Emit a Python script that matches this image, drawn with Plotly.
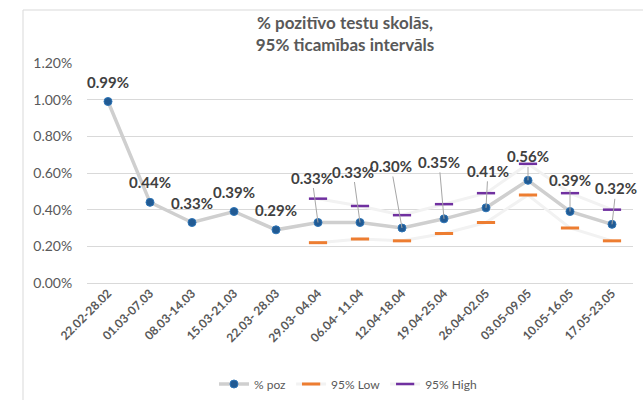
import plotly.graph_objects as go

categories = ["22.02-28.02", "01.03-07.03", "08.03-14.03", "15.03-21.03", "22.03- 28.03",
              "29.03- 04.04", "06.04- 11.04", "12.04-18.04", "19.04-25.04", "26.04-02.05",
              "03.05-09.05", "10.05-16.05", "17.05-23.05"]
poz = [0.99, 0.44, 0.33, 0.39, 0.29, 0.33, 0.33, 0.30, 0.35, 0.41, 0.56, 0.39, 0.32]
low95 = [None, None, None, None, None, 0.22, 0.24, 0.23, 0.27, 0.33, 0.48, 0.30, 0.23]
high95 = [None, None, None, None, None, 0.46, 0.42, 0.37, 0.43, 0.49, 0.65, 0.49, 0.40]
y_ticks = [0.0, 0.2, 0.4, 0.6, 0.8, 1.0, 1.2]

# label offsets (pixels) from point to label centre
label_dx = [0, 0, 0, 0, 0, -6, -7, -11, -5, 2, 0, 0, 4]
label_dy = [-20, -20, -20, -20, -20, -45, -51, -62, -57, -37, -24, -32, -36]
show_leader = [False] * 5 + [True] * 8

FONT = "Lato"
GRAY = "#595959"

fig = go.Figure()
fig.add_trace(go.Scatter(
    x=categories, y=poz, name="% poz", mode="lines+markers",
    line=dict(color="#cfcfcf", width=3.5),
    marker=dict(color="#215a93", size=8, line=dict(color="#2e75b6", width=1)),
))
fig.add_trace(go.Scatter(
    x=categories, y=low95, name="95% Low", mode="lines+markers",
    line=dict(color="#f2f2f2", width=3),
    marker=dict(symbol="line-ew", size=13, color="#ed7d31", line=dict(color="#ed7d31", width=3)),
))
fig.add_trace(go.Scatter(
    x=categories, y=high95, name="95% High", mode="lines+markers",
    line=dict(color="#f2f2f2", width=3),
    marker=dict(symbol="line-ew", size=13, color="#7030a0", line=dict(color="#7030a0", width=2.5)),
))

for c, v, dx, dy, lead in zip(categories, poz, label_dx, label_dy, show_leader):
    fig.add_annotation(
        x=c, y=v, text=f"{v:.2f}%", showarrow=True, ax=dx, ay=dy,
        arrowhead=0, arrowwidth=1,
        arrowcolor="#a6a6a6" if lead else "rgba(0,0,0,0)",
        font=dict(family=FONT, size=15, color="#404040", weight="bold"),
    )

# outer chart frame (partially visible)
x0 = (23 - 87) / 546
y0 = (283 - 10) / 220
fig.add_shape(type="line", xref="paper", yref="paper", x0=x0, x1=x0, y0=y0, y1=-0.6,
              line=dict(color="#d9d9d9", width=1))
fig.add_shape(type="line", xref="paper", yref="paper", x0=x0, x1=1.05, y0=y0, y1=y0,
              line=dict(color="#d9d9d9", width=1))

fig.update_layout(
    width=643, height=400,
    margin=dict(l=87, r=10, t=63, b=117, autoexpand=False),
    paper_bgcolor="white", plot_bgcolor="white",
    title=dict(text="% pozitīvo testu skolās,<br>95% ticamības intervāls",
               x=345 / 643, xanchor="center", yref="container", y=1 - 29 / 400, yanchor="middle",
               font=dict(family=FONT, size=17, color=GRAY, weight="bold")),
    showlegend=True,
    legend=dict(orientation="h", x=0.478, xanchor="center", yref="container",
                y=1 - 384 / 400, yanchor="middle",
                font=dict(family=FONT, size=12, color=GRAY), itemclick=False),
    xaxis=dict(type="category", categoryorder="array", categoryarray=categories,
               tickangle=-45, tickfont=dict(family=FONT, size=12, color=GRAY, weight="bold"),
               showgrid=False, showline=False, ticks="", range=[-0.5, 12.5], automargin=False),
    yaxis=dict(range=[0, 1.2], tickvals=y_ticks, ticktext=[f"{t:.2f}%" for t in y_ticks],
               tickfont=dict(family=FONT, size=14, color=GRAY),
               showgrid=True, gridcolor="#d9d9d9", gridwidth=1,
               zeroline=True, zerolinecolor="#d9d9d9", zerolinewidth=1,
               ticks="outside", ticklen=11, tickcolor="rgba(0,0,0,0)", showline=False,
               automargin=False),
)

fig.write_html("out.html", config={"displayModeBar": False},
               post_script="document.body.style.margin='0px';")
